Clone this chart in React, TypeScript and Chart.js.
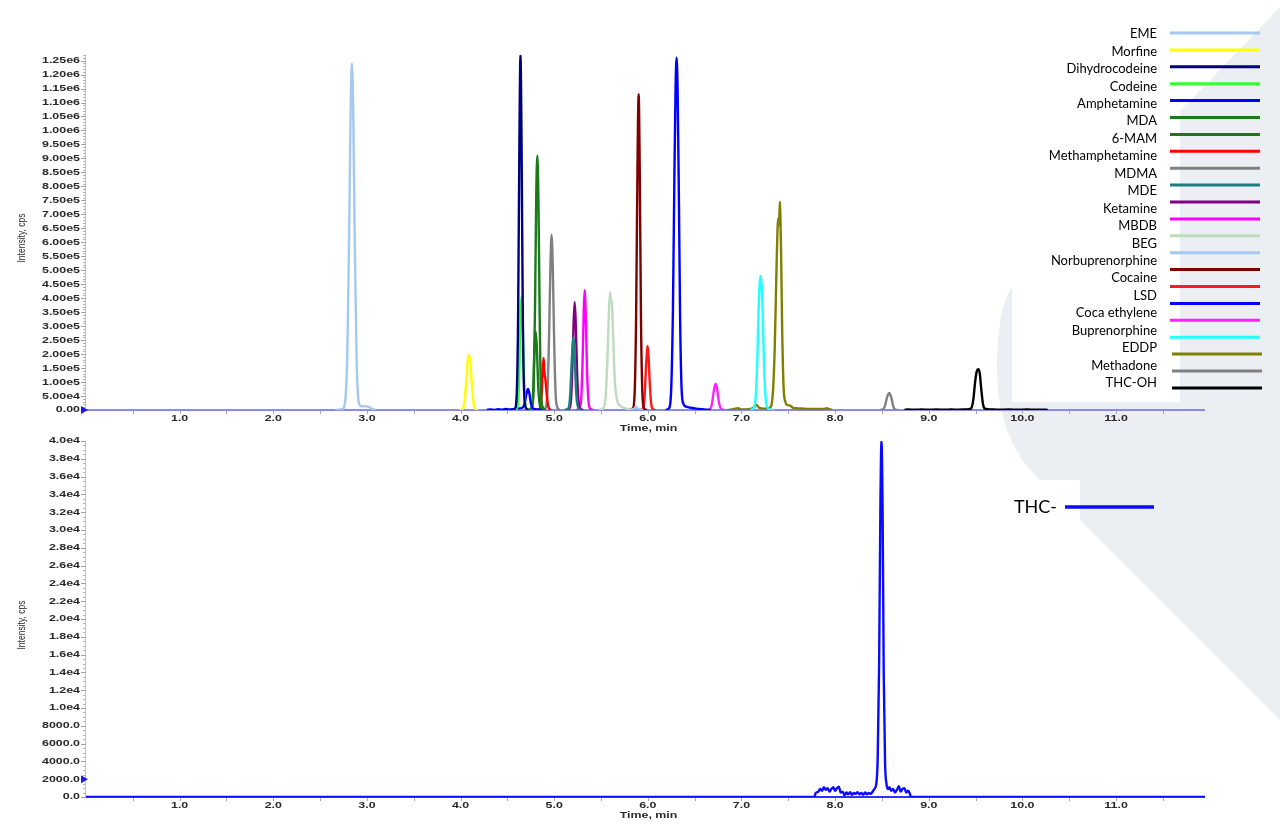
import React, { useEffect, useRef } from "react";
import { Chart, registerables } from "chart.js";
Chart.register(...registerables);

type Pt = [number, number];

// ---------- axis ticks / labels ----------
const X_TICKS = [1, 2, 3, 4, 5, 6, 7, 8, 9, 10, 11];
const X_TICK_LABELS = ["1.0", "2.0", "3.0", "4.0", "5.0", "6.0", "7.0", "8.0", "9.0", "10.0", "11.0"];
const X_TITLE = "Time, min";
const Y_TITLE = "Intensity, cps";

const TOP_Y_TICKS = [0, 5e4, 1e5, 1.5e5, 2e5, 2.5e5, 3e5, 3.5e5, 4e5, 4.5e5, 5e5, 5.5e5, 6e5, 6.5e5, 7e5, 7.5e5, 8e5, 8.5e5, 9e5, 9.5e5, 1e6, 1.05e6, 1.1e6, 1.15e6, 1.2e6, 1.25e6];
const TOP_Y_LABELS = ["0.00", "5.00e4", "1.00e5", "1.50e5", "2.00e5", "2.50e5", "3.00e5", "3.50e5", "4.00e5", "4.50e5", "5.00e5", "5.50e5", "6.00e5", "6.50e5", "7.00e5", "7.50e5", "8.00e5", "8.50e5", "9.00e5", "9.50e5", "1.00e6", "1.05e6", "1.10e6", "1.15e6", "1.20e6", "1.25e6"];

const BOTTOM_Y_TICKS = [0, 2000, 4000, 6000, 8000, 10000, 12000, 14000, 16000, 18000, 20000, 22000, 24000, 26000, 28000, 30000, 32000, 34000, 36000, 38000, 40000];
const BOTTOM_Y_LABELS = ["0.0", "2000.0", "4000.0", "6000.0", "8000.0", "1.0e4", "1.2e4", "1.4e4", "1.6e4", "1.8e4", "2.0e4", "2.2e4", "2.4e4", "2.6e4", "2.8e4", "3.0e4", "3.2e4", "3.4e4", "3.6e4", "3.8e4", "4.0e4"];

// ---------- legend ----------
const LEGEND_LABELS = ["EME", "Morfine", "Dihydrocodeine", "Codeine", "Amphetamine", "MDA", "6-MAM", "Methamphetamine", "MDMA", "MDE", "Ketamine", "MBDB", "BEG", "Norbuprenorphine", "Cocaine", "LSD", "Coca ethylene", "Buprenorphine", "EDDP", "Methadone", "THC-OH"];
const BOTTOM_LEGEND_LABEL = "THC-";

// ---------- top chromatogram traces (time min, intensity cps) ----------
const EME: Pt[] = [[2.66, 0], [2.74, 4e3], [2.77, 4e4], [2.79, 1.9e5], [2.81, 6.2e5], [2.825, 1.05e6], [2.84, 1.24e6], [2.855, 1.04e6], [2.87, 6.0e5], [2.89, 1.8e5], [2.91, 3.5e4], [2.94, 1.3e4], [2.98, 1.4e4], [3.02, 1.1e4], [3.06, 3e3], [3.1, 0]];
const MORFINE: Pt[] = [[3.99, 0], [4.02, 3e3], [4.04, 2.5e4], [4.06, 1.0e5], [4.075, 1.7e5], [4.09, 1.98e5], [4.105, 1.68e5], [4.12, 9.5e4], [4.14, 2.2e4], [4.16, 2e3], [4.19, 0]];
const DIHYDROCODEINE: Pt[] = [[4.54, 0], [4.58, 5e3], [4.6, 6e4], [4.615, 3.5e5], [4.628, 9.5e5], [4.64, 1.27e6], [4.652, 9.3e5], [4.665, 3.3e5], [4.68, 5.5e4], [4.7, 6e3], [4.73, 0]];
const CODEINE: Pt[] = [[4.57, 0], [4.6, 4e3], [4.62, 6e4], [4.635, 2.5e5], [4.645, 3.7e5], [4.652, 4.07e5], [4.662, 3.4e5], [4.675, 1.4e5], [4.69, 2.5e4], [4.71, 3e3], [4.74, 0]];
const AMPHETAMINE: Pt[] = [[4.28, 0], [4.32, 2e3], [4.36, 0], [4.4, 3e3], [4.44, 1e3], [4.48, 4e3], [4.52, 2e3], [4.56, 3e3], [4.6, 5e3], [4.66, 8e3], [4.685, 2.5e4], [4.705, 6e4], [4.72, 7.5e4], [4.735, 6e4], [4.75, 2.5e4], [4.77, 7e3], [4.8, 3e3], [4.84, 1e3], [4.87, 0]];
const MDA: Pt[] = [[4.72, 0], [4.76, 7e3], [4.78, 7e4], [4.795, 3.6e5], [4.808, 7.6e5], [4.82, 9.1e5], [4.832, 7.4e5], [4.845, 3.3e5], [4.86, 6e4], [4.88, 8e3], [4.91, 0]];
const MAM6: Pt[] = [[4.72, 0], [4.755, 5e3], [4.775, 6e4], [4.79, 2.2e5], [4.803, 2.8e5], [4.815, 2.2e5], [4.83, 8e4], [4.85, 1.2e4], [4.88, 0]];
const METHAMPHETAMINE: Pt[] = [[4.81, 0], [4.845, 5e3], [4.865, 5e4], [4.878, 1.5e5], [4.887, 1.86e5], [4.897, 1.3e5], [4.907, 1.07e5], [4.918, 6.5e4], [4.935, 1.5e4], [4.96, 0]];
const MDMA: Pt[] = [[4.87, 0], [4.91, 8e3], [4.93, 8e4], [4.945, 2.6e5], [4.96, 5.2e5], [4.972, 6.27e5], [4.985, 5.1e5], [5.0, 2.4e5], [5.015, 6e4], [5.035, 8e3], [5.06, 0]];
const MDE: Pt[] = [[5.11, 0], [5.15, 5e3], [5.17, 5e4], [5.185, 1.6e5], [5.198, 2.4e5], [5.206, 2.6e5], [5.218, 2.0e5], [5.232, 8e4], [5.25, 1.5e4], [5.28, 0]];
const KETAMINE: Pt[] = [[5.12, 0], [5.16, 5e3], [5.18, 4e4], [5.195, 1.6e5], [5.208, 3.2e5], [5.219, 3.86e5], [5.23, 3.1e5], [5.245, 1.3e5], [5.26, 3e4], [5.28, 4e3], [5.31, 0]];
const MBDB: Pt[] = [[5.23, 0], [5.27, 5e3], [5.29, 5e4], [5.305, 2.0e5], [5.316, 3.6e5], [5.325, 4.29e5], [5.336, 3.5e5], [5.35, 1.5e5], [5.365, 3.5e4], [5.385, 5e3], [5.42, 0]];
const BEG: Pt[] = [[5.47, 0], [5.52, 6e3], [5.55, 5e4], [5.57, 2.0e5], [5.585, 3.6e5], [5.596, 4.21e5], [5.606, 3.9e5], [5.615, 3.86e5], [5.628, 2.8e5], [5.645, 1.2e5], [5.665, 4.5e4], [5.69, 2e4], [5.73, 1e4], [5.78, 4e3], [5.83, 0]];
const BEG_MINOR: Pt[] = [[5.8, 0], [5.85, 4e3], [5.875, 1e4], [5.9, 4e3], [5.95, 0]];
const NORBUPRENORPHINE: Pt[] = [[5.8, 0], [5.84, 6e3], [5.86, 7e4], [5.875, 3.4e5], [5.889, 8.6e5], [5.902, 1.13e6], [5.914, 8.4e5], [5.927, 3.2e5], [5.942, 6e4], [5.96, 6e3], [5.99, 0]];
const COCAINE: Pt[] = [[5.91, 0], [5.945, 4e3], [5.965, 4.5e4], [5.98, 1.5e5], [5.992, 2.15e5], [5.998, 2.29e5], [6.008, 1.9e5], [6.02, 1.0e5], [6.035, 2.5e4], [6.055, 3e3], [6.08, 0]];
const LSD: Pt[] = [[6.19, 0], [6.23, 8e3], [6.25, 8e4], [6.268, 3.6e5], [6.283, 8.2e5], [6.296, 1.15e6], [6.307, 1.26e6], [6.318, 1.14e6], [6.331, 7.8e5], [6.345, 3.2e5], [6.36, 8e4], [6.38, 2.2e4], [6.41, 1.2e4], [6.46, 8e3], [6.52, 5e3], [6.58, 3e3], [6.63, 1e3], [6.67, 0]];
const COCAETHYLENE: Pt[] = [[6.63, 0], [6.665, 3e3], [6.685, 2.2e4], [6.7, 5.8e4], [6.713, 8.5e4], [6.725, 9.3e4], [6.737, 8.3e4], [6.75, 5e4], [6.765, 1.8e4], [6.785, 3e3], [6.82, 0]];
const BUPRENORPHINE: Pt[] = [[7.09, 0], [7.13, 5e3], [7.15, 4e4], [7.168, 1.7e5], [7.183, 3.6e5], [7.196, 4.6e5], [7.205, 4.8e5], [7.215, 4.5e5], [7.228, 3.3e5], [7.243, 1.4e5], [7.26, 3.5e4], [7.28, 7e3], [7.31, 1e3], [7.35, 0]];
const EDDP: Pt[] = [[6.85, 0], [6.9, 2e3], [6.96, 6e3], [7.0, 2e3], [7.08, 3e3], [7.13, 8e3], [7.16, 1.8e4], [7.19, 8e3], [7.24, 5e3], [7.3, 8e3], [7.33, 4e4], [7.355, 2.2e5], [7.375, 5.2e5], [7.392, 6.86e5], [7.401, 6.6e5], [7.41, 7.45e5], [7.422, 5.8e5], [7.435, 2.8e5], [7.45, 8e4], [7.47, 2.8e4], [7.49, 1.8e4], [7.52, 1.6e4], [7.55, 8e3], [7.6, 6e3], [7.7, 4e3], [7.8, 4e3], [7.88, 4e3], [7.91, 6e3], [7.94, 3e3], [7.97, 0]];
const METHADONE: Pt[] = [[8.48, 0], [8.515, 3e3], [8.535, 1.8e4], [8.555, 4.6e4], [8.578, 6.1e4], [8.6, 4.4e4], [8.62, 1.5e4], [8.64, 2e3], [8.67, 0]];
const THC_OH: Pt[] = [[8.74, 0], [8.78, 2e3], [8.85, 1e3], [8.92, 2e3], [9.0, 1e3], [9.08, 2e3], [9.16, 1e3], [9.24, 2e3], [9.32, 1e3], [9.4, 2e3], [9.45, 5e3], [9.475, 3.5e4], [9.495, 1.0e5], [9.512, 1.38e5], [9.528, 1.46e5], [9.545, 1.3e5], [9.562, 7e4], [9.58, 2e4], [9.6, 5e3], [9.66, 2e3], [9.75, 1e3], [9.85, 2e3], [9.95, 1e3], [10.05, 2e3], [10.15, 1e3], [10.25, 1e3], [10.27, 0]];

// ---------- bottom chromatogram (THC-) ----------
const THC: Pt[] = [[0, 0], [7.78, 0], [7.79, 400], [7.82, 600], [7.84, 900], [7.86, 700], [7.88, 1100], [7.9, 800], [7.92, 1000], [7.94, 600], [7.96, 900], [7.98, 1100], [8.0, 700], [8.02, 1000], [8.04, 1150], [8.06, 500], [8.08, 600], [8.1, 200], [8.12, 500], [8.14, 300], [8.16, 550], [8.18, 250], [8.2, 450], [8.22, 350], [8.24, 550], [8.26, 300], [8.28, 450], [8.3, 250], [8.32, 500], [8.34, 300], [8.36, 450], [8.38, 350], [8.4, 600], [8.42, 900], [8.44, 1500], [8.455, 4500], [8.47, 1.5e4], [8.483, 3.2e4], [8.495, 4.0e4], [8.507, 3.2e4], [8.519, 1.4e4], [8.533, 4000], [8.548, 1500], [8.565, 900], [8.58, 1100], [8.6, 700], [8.62, 900], [8.64, 500], [8.66, 800], [8.68, 1200], [8.7, 600], [8.72, 900], [8.74, 1000], [8.76, 500], [8.78, 700], [8.8, 300], [8.81, 0], [11.95, 0]];

const TOP_TRACES: Pt[][] = [EME, MORFINE, DIHYDROCODEINE, CODEINE, AMPHETAMINE, MDA, MAM6, METHAMPHETAMINE, MDMA, MDE, KETAMINE, MBDB, BEG, BEG_MINOR, NORBUPRENORPHINE, COCAINE, LSD, COCAETHYLENE, BUPRENORPHINE, EDDP, METHADONE, THC_OH];
const TOP_COLORS = ["#a4c8ee", "#ffff00", "#000080", "#33ff33", "#0000ff", "#1a7a1a", "#1a7a1a", "#ff0000", "#808080", "#1a7f7f", "#800080", "#ff00ff", "#bcdcbc", "#a4c8ee", "#800000", "#ff1a1a", "#0000ff", "#ff22ff", "#22ffff", "#808000", "#808080", "#000000"];
const THC_COLOR = "#0a0aff";

const LABEL_FONT = 'bold 9px "Liberation Sans", Arial, sans-serif';
const STRETCH = 1.38;

function stretchedText(ctx: CanvasRenderingContext2D, text: string, x: number, y: number, align: CanvasTextAlign) {
  ctx.save();
  ctx.translate(x, y);
  ctx.scale(STRETCH, 1);
  ctx.textAlign = align;
  ctx.textBaseline = "middle";
  ctx.fillText(text, 0, 0);
  ctx.restore();
}

function makeDecor(cfg: any) {
  return {
    id: "decor" + cfg.key,
    beforeDatasetsDraw(chart: any) {
      const ctx: CanvasRenderingContext2D = chart.ctx;
      const a = chart.chartArea;
      ctx.save();
      ctx.strokeStyle = cfg.axisColor;
      ctx.lineWidth = 2;
      ctx.beginPath();
      ctx.moveTo(a.left, a.bottom);
      ctx.lineTo(a.right, a.bottom);
      ctx.stroke();
      ctx.restore();
    },
    afterDraw(chart: any) {
      const ctx: CanvasRenderingContext2D = chart.ctx;
      const a = chart.chartArea;
      const xs = chart.scales.x;
      const ys = chart.scales.y;
      ctx.save();
      // y axis line
      ctx.strokeStyle = "#c2c2c2";
      ctx.lineWidth = 1;
      ctx.beginPath();
      ctx.moveTo(a.left - 0.5, a.top);
      ctx.lineTo(a.left - 0.5, a.bottom);
      ctx.stroke();
      // y minor ticks
      ctx.strokeStyle = "#b4b4b4";
      ctx.beginPath();
      for (let v = 0; v <= ys.max + 1e-6; v += cfg.yMinor) {
        const y = Math.round(ys.getPixelForValue(v)) + 0.5;
        ctx.moveTo(a.left - 3, y);
        ctx.lineTo(a.left, y);
      }
      ctx.stroke();
      // y major ticks
      ctx.strokeStyle = "#a0a0a0";
      ctx.beginPath();
      cfg.yTicks.forEach((v: number) => {
        const y = Math.round(ys.getPixelForValue(v)) + 0.5;
        ctx.moveTo(a.left - 5, y);
        ctx.lineTo(a.left, y);
      });
      ctx.stroke();
      // x ticks (every half minute)
      ctx.strokeStyle = "#a8a8a8";
      ctx.beginPath();
      for (let v = 0.5; v < xs.max; v += 0.5) {
        const x = Math.round(xs.getPixelForValue(v)) + 0.5;
        ctx.moveTo(x, a.bottom + 1);
        ctx.lineTo(x, a.bottom + 4);
      }
      ctx.stroke();
      // labels
      ctx.fillStyle = "#2a2a2a";
      ctx.font = LABEL_FONT;
      cfg.yTicks.forEach((v: number, i: number) => {
        stretchedText(ctx, cfg.yLabels[i], a.left - 6, ys.getPixelForValue(v), "right");
      });
      X_TICKS.forEach((v, i) => {
        stretchedText(ctx, X_TICK_LABELS[i], xs.getPixelForValue(v), a.bottom + 9, "center");
      });
      stretchedText(ctx, X_TITLE, (a.left + a.right) / 2 + 3, a.bottom + 19, "center");
      // y title (rotated; cross direction stretched)
      ctx.save();
      ctx.font = '8.5px "Liberation Sans", Arial, sans-serif';
      ctx.translate(21.5, cfg.yTitleY);
      ctx.rotate(-Math.PI / 2);
      ctx.scale(1, STRETCH);
      ctx.textAlign = "center";
      ctx.textBaseline = "middle";
      ctx.fillText(Y_TITLE, 0, 0);
      ctx.restore();
      // marker
      const my = ys.getPixelForValue(cfg.markerValue);
      ctx.fillStyle = "#1a1aee";
      ctx.beginPath();
      ctx.moveTo(a.left - 5, my - 4);
      ctx.lineTo(a.left + 2, my);
      ctx.lineTo(a.left - 5, my + 4);
      ctx.closePath();
      ctx.fill();
      // legend
      if (cfg.key === "top") {
        ctx.fillStyle = "#000";
        ctx.font = '13px Lato, "Open Sans", sans-serif';
        ctx.textAlign = "right";
        ctx.textBaseline = "middle";
        LEGEND_LABELS.forEach((t, i) => ctx.fillText(t, 1157, 34 + i * 17.45));
        ctx.lineWidth = 3;
        TOP_COLORS.forEach((c, j) => {
          const y = 33 + j * 16.9;
          ctx.strokeStyle = c;
          ctx.beginPath();
          ctx.moveTo(j >= 19 ? 1172 : 1170, y);
          ctx.lineTo(j >= 19 ? 1262 : 1260, y);
          ctx.stroke();
        });
      } else {
        ctx.fillStyle = "#000";
        ctx.font = '18px Lato, "Open Sans", sans-serif';
        ctx.textAlign = "right";
        ctx.textBaseline = "middle";
        ctx.fillText(BOTTOM_LEGEND_LABEL, 1057, 507 - cfg.offsetY);
        ctx.strokeStyle = THC_COLOR;
        ctx.lineWidth = 3.5;
        ctx.beginPath();
        ctx.moveTo(1065, 507 - cfg.offsetY);
        ctx.lineTo(1154, 507 - cfg.offsetY);
        ctx.stroke();
      }
      ctx.restore();
    },
  };
}

function toXY(pts: Pt[]) {
  return pts.map(([x, y]) => ({ x, y }));
}

export default function App() {
  const topRef = useRef<HTMLCanvasElement>(null);
  const botRef = useRef<HTMLCanvasElement>(null);

  useEffect(() => {
    const common: any = {
      responsive: false,
      animation: false,
      devicePixelRatio: 1,
      events: [],
      plugins: { legend: { display: false }, tooltip: { enabled: false } },
    };
    const top = new Chart(topRef.current as HTMLCanvasElement, {
      type: "line",
      data: {
        datasets: TOP_TRACES.map((tr, i) => ({
          label: "trace" + i,
          data: toXY(tr),
          borderColor: TOP_COLORS[i],
          borderWidth: 2.4,
          pointRadius: 0,
          fill: false,
          cubicInterpolationMode: "monotone",
        })),
      },
      options: {
        ...common,
        layout: { padding: { left: 86, right: 75, top: 55, bottom: 26 } },
        scales: {
          x: { type: "linear", min: 0, max: 11.95, display: false },
          y: { type: "linear", min: 0, max: 1.27e6, display: false },
        },
      },
      plugins: [makeDecor({ key: "top", yTicks: TOP_Y_TICKS, yLabels: TOP_Y_LABELS, yMinor: 1e4, yTitleY: 238, markerValue: 0, axisColor: "#8a8ae8", offsetY: 0 })],
    } as any);

    const bottom = new Chart(botRef.current as HTMLCanvasElement, {
      type: "line",
      data: {
        datasets: [
          {
            label: BOTTOM_LEGEND_LABEL,
            data: toXY(THC),
            borderColor: THC_COLOR,
            borderWidth: 2.4,
            pointRadius: 0,
            fill: false,
            cubicInterpolationMode: "monotone",
          },
        ],
      },
      options: {
        ...common,
        layout: { padding: { left: 86, right: 75, top: 5, bottom: 37 } },
        scales: {
          x: { type: "linear", min: 0, max: 11.95, display: false },
          y: { type: "linear", min: 0, max: 4.0e4, display: false },
        },
      },
      plugins: [makeDecor({ key: "bottom", yTicks: BOTTOM_Y_TICKS, yLabels: BOTTOM_Y_LABELS, yMinor: 500, yTitleY: 625 - 436, markerValue: 2000, axisColor: "#3030ff", offsetY: 436 })],
    } as any);

    return () => {
      top.destroy();
      bottom.destroy();
    };
  }, []);

  return (
    <div style={{ position: "fixed", left: 0, top: 0, width: 1280, height: 834, background: "#ffffff", overflow: "hidden" }}>
      <svg width={1280} height={834} style={{ position: "absolute", left: 0, top: 0 }}>
        <path
          d="M 1306 -20 L 1014 285 C 1002 297, 997 330, 997 370 C 997 420, 1015 458, 1042 482 L 1340 780 L 1340 -20 Z"
          fill="#ebeef2"
        />
        <rect x={1012} y={-10} width={168} height={412} fill="#ffffff" />
        <rect x={980} y={480} width={100} height={70} fill="#ffffff" />
      </svg>
      <canvas ref={topRef} width={1280} height={436} style={{ position: "absolute", left: 0, top: 0 }} />
      <canvas ref={botRef} width={1280} height={398} style={{ position: "absolute", left: 0, top: 436 }} />
    </div>
  );
}
